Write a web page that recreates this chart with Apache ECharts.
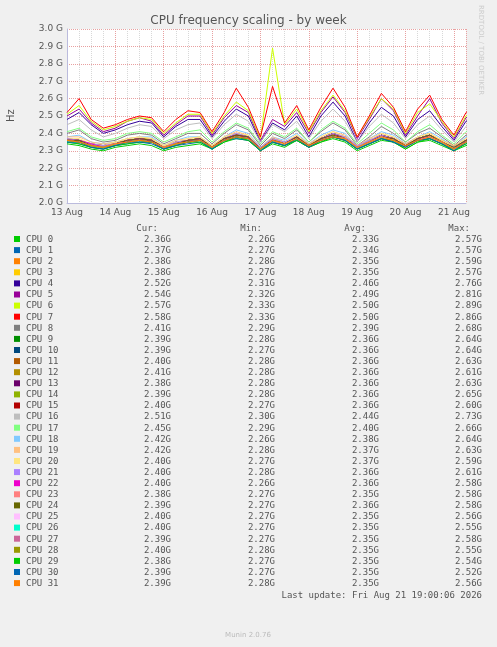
<!DOCTYPE html>
<html><head><meta charset="utf-8">
<script src="https://cdn.jsdelivr.net/npm/echarts@6/dist/echarts.min.js"></script>
<style>html,body{margin:0;background:#f0f0f0}#c{width:497px;height:647px}</style>
</head><body><div id="c"></div>
<script>
// x: hours since 13 Aug 00:00, one sample every 6h
const dayLabels = ["13 Aug","14 Aug","15 Aug","16 Aug","17 Aug","18 Aug","19 Aug","20 Aug","21 Aug"];
const yTicks = ["2.0 G","2.1 G","2.2 G","2.3 G","2.4 G","2.5 G","2.6 G","2.7 G","2.8 G","2.9 G","3.0 G"];
const names = [];
for (let i = 0; i < 32; i++) names.push("CPU " + i);
const colors = ["#00CC00","#0066B3","#FF8000","#FFCC00","#330099","#990099","#CCFF00","#FF0000","#808080","#008F00","#00487D","#B35A00","#B38F00","#6B006B","#8FB300","#B30000","#BEBEBE","#80FF80","#80C9FF","#FFC080","#FFE680","#AA80FF","#EE00CC","#FF8080","#666600","#FFBFFF","#00FFCC","#CC6699","#999900","#00CC00","#0066B3","#FF8000"];
const cur = ["2.36G","2.37G","2.38G","2.38G","2.52G","2.54G","2.57G","2.58G","2.41G","2.39G","2.39G","2.40G","2.41G","2.38G","2.39G","2.40G","2.51G","2.45G","2.42G","2.42G","2.40G","2.40G","2.40G","2.38G","2.39G","2.40G","2.40G","2.39G","2.40G","2.38G","2.39G","2.39G"];
const mins = ["2.26G","2.27G","2.28G","2.27G","2.31G","2.32G","2.33G","2.33G","2.29G","2.28G","2.27G","2.28G","2.28G","2.28G","2.28G","2.27G","2.30G","2.29G","2.26G","2.28G","2.27G","2.28G","2.26G","2.27G","2.27G","2.27G","2.27G","2.27G","2.28G","2.27G","2.27G","2.28G"];
const avgs = ["2.33G","2.34G","2.35G","2.35G","2.46G","2.49G","2.50G","2.50G","2.39G","2.36G","2.36G","2.36G","2.36G","2.36G","2.36G","2.36G","2.44G","2.40G","2.38G","2.37G","2.37G","2.36G","2.36G","2.35G","2.36G","2.35G","2.35G","2.35G","2.35G","2.35G","2.35G","2.35G"];
const maxs = ["2.57G","2.57G","2.59G","2.57G","2.76G","2.81G","2.89G","2.86G","2.68G","2.64G","2.64G","2.63G","2.61G","2.63G","2.65G","2.60G","2.73G","2.66G","2.64G","2.63G","2.59G","2.61G","2.58G","2.58G","2.58G","2.56G","2.55G","2.58G","2.55G","2.54G","2.52G","2.56G"];

const cpu0  = [2.34,2.33,2.31,2.30,2.32,2.33,2.34,2.33,2.30,2.32,2.33,2.34,2.31,2.35,2.37,2.36,2.30,2.34,2.32,2.36,2.32,2.35,2.37,2.35,2.30,2.33,2.36,2.35,2.31,2.35,2.36,2.33,2.30,2.33,2.34];
const cpu1  = [2.35,2.34,2.32,2.31,2.33,2.34,2.35,2.34,2.31,2.33,2.34,2.35,2.31,2.36,2.37,2.36,2.31,2.35,2.33,2.36,2.32,2.36,2.38,2.36,2.31,2.34,2.37,2.35,2.32,2.36,2.37,2.34,2.31,2.34,2.35];
const cpu2  = [2.36,2.35,2.33,2.32,2.34,2.35,2.36,2.35,2.32,2.34,2.35,2.36,2.32,2.37,2.38,2.37,2.32,2.36,2.34,2.38,2.33,2.36,2.39,2.37,2.32,2.35,2.38,2.36,2.33,2.37,2.38,2.35,2.32,2.35,2.37];
const cpu3  = [2.36,2.35,2.32,2.32,2.33,2.35,2.36,2.35,2.32,2.33,2.35,2.36,2.32,2.36,2.38,2.37,2.32,2.36,2.34,2.37,2.33,2.36,2.38,2.37,2.32,2.35,2.38,2.36,2.33,2.36,2.38,2.35,2.32,2.35,2.37];
const cpu4  = [2.48,2.52,2.45,2.40,2.42,2.45,2.47,2.46,2.38,2.44,2.48,2.48,2.38,2.47,2.54,2.50,2.35,2.46,2.42,2.50,2.38,2.50,2.58,2.50,2.35,2.46,2.55,2.50,2.38,2.48,2.53,2.44,2.36,2.47,2.50];
const cpu5  = [2.50,2.54,2.46,2.41,2.43,2.47,2.49,2.47,2.39,2.45,2.50,2.50,2.39,2.49,2.56,2.52,2.36,2.48,2.44,2.52,2.40,2.52,2.61,2.52,2.37,2.48,2.60,2.53,2.39,2.50,2.60,2.46,2.37,2.49,2.52];
const cpu6  = [2.51,2.56,2.47,2.42,2.44,2.47,2.49,2.48,2.40,2.46,2.51,2.51,2.40,2.50,2.58,2.53,2.37,2.89,2.45,2.54,2.41,2.53,2.62,2.53,2.38,2.49,2.60,2.54,2.40,2.52,2.57,2.47,2.38,2.50,2.55];
const cpu7  = [2.52,2.60,2.48,2.43,2.45,2.48,2.50,2.49,2.41,2.48,2.53,2.52,2.41,2.52,2.66,2.55,2.38,2.67,2.46,2.56,2.42,2.55,2.66,2.55,2.38,2.50,2.63,2.55,2.41,2.54,2.62,2.48,2.39,2.52,2.58];
const cpu8  = [2.40,2.42,2.37,2.35,2.36,2.39,2.40,2.39,2.34,2.37,2.40,2.40,2.34,2.40,2.45,2.42,2.33,2.40,2.37,2.42,2.35,2.41,2.46,2.42,2.33,2.38,2.44,2.40,2.35,2.40,2.43,2.38,2.33,2.39,2.41];
const cpu9  = [2.37,2.36,2.33,2.32,2.34,2.35,2.37,2.36,2.32,2.34,2.36,2.37,2.32,2.37,2.39,2.38,2.32,2.36,2.34,2.38,2.33,2.37,2.40,2.37,2.32,2.35,2.39,2.37,2.33,2.37,2.39,2.35,2.32,2.36,2.39];
const cpu10 = [2.36,2.36,2.33,2.32,2.34,2.35,2.36,2.36,2.32,2.34,2.36,2.36,2.32,2.37,2.39,2.38,2.31,2.36,2.34,2.38,2.33,2.37,2.39,2.37,2.32,2.35,2.38,2.37,2.33,2.37,2.39,2.35,2.32,2.36,2.39];
const cpu11 = [2.37,2.36,2.34,2.33,2.34,2.36,2.37,2.36,2.32,2.35,2.36,2.37,2.33,2.37,2.40,2.38,2.32,2.37,2.35,2.38,2.33,2.37,2.40,2.38,2.33,2.36,2.39,2.37,2.33,2.37,2.39,2.36,2.32,2.36,2.40];
const cpu12 = [2.37,2.36,2.34,2.33,2.35,2.36,2.37,2.37,2.33,2.35,2.36,2.37,2.33,2.37,2.39,2.38,2.32,2.37,2.35,2.38,2.34,2.37,2.40,2.38,2.33,2.36,2.39,2.37,2.34,2.37,2.39,2.36,2.33,2.36,2.41];
const cpu13 = [2.36,2.36,2.33,2.33,2.34,2.36,2.37,2.36,2.32,2.34,2.36,2.37,2.32,2.37,2.40,2.38,2.32,2.36,2.34,2.38,2.33,2.37,2.40,2.37,2.32,2.35,2.39,2.37,2.33,2.37,2.39,2.35,2.32,2.36,2.38];
const cpu14 = [2.37,2.36,2.33,2.32,2.34,2.36,2.37,2.36,2.32,2.35,2.36,2.37,2.32,2.37,2.40,2.38,2.32,2.37,2.34,2.38,2.33,2.37,2.40,2.38,2.32,2.36,2.39,2.37,2.33,2.37,2.39,2.35,2.32,2.36,2.39];
const cpu15 = [2.37,2.36,2.34,2.33,2.34,2.36,2.37,2.36,2.32,2.35,2.36,2.37,2.32,2.37,2.39,2.38,2.32,2.37,2.35,2.38,2.33,2.37,2.40,2.37,2.33,2.36,2.39,2.37,2.33,2.37,2.39,2.35,2.32,2.36,2.40];
const cpu16 = [2.45,2.48,2.42,2.38,2.40,2.43,2.45,2.44,2.37,2.42,2.45,2.46,2.37,2.45,2.51,2.47,2.35,2.45,2.41,2.47,2.37,2.47,2.54,2.47,2.35,2.44,2.51,2.46,2.37,2.45,2.50,2.42,2.35,2.44,2.51];
const cpu17 = [2.41,2.43,2.38,2.36,2.37,2.40,2.41,2.40,2.35,2.38,2.41,2.42,2.35,2.41,2.46,2.43,2.34,2.41,2.38,2.43,2.35,2.42,2.47,2.43,2.34,2.40,2.46,2.42,2.35,2.41,2.45,2.39,2.34,2.41,2.45];
const cpu18 = [2.38,2.39,2.35,2.34,2.35,2.37,2.38,2.38,2.33,2.36,2.38,2.38,2.33,2.38,2.42,2.40,2.32,2.38,2.36,2.40,2.34,2.39,2.42,2.40,2.32,2.37,2.41,2.39,2.34,2.38,2.41,2.37,2.32,2.38,2.42];
const cpu19 = [2.38,2.38,2.35,2.34,2.35,2.37,2.38,2.37,2.33,2.36,2.37,2.38,2.33,2.38,2.41,2.39,2.32,2.38,2.35,2.39,2.34,2.38,2.41,2.39,2.33,2.37,2.40,2.38,2.34,2.38,2.40,2.36,2.33,2.37,2.42];
const cpu20 = [2.37,2.37,2.34,2.33,2.35,2.37,2.38,2.37,2.33,2.35,2.37,2.38,2.33,2.38,2.40,2.39,2.32,2.37,2.35,2.39,2.33,2.38,2.41,2.38,2.33,2.36,2.40,2.38,2.33,2.38,2.40,2.36,2.32,2.37,2.40];
const cpu21 = [2.37,2.36,2.34,2.33,2.34,2.36,2.37,2.36,2.32,2.35,2.36,2.37,2.32,2.37,2.40,2.38,2.32,2.37,2.35,2.38,2.33,2.37,2.40,2.38,2.33,2.36,2.39,2.37,2.33,2.37,2.39,2.35,2.32,2.36,2.40];
const cpu22 = [2.36,2.36,2.34,2.32,2.34,2.36,2.37,2.36,2.32,2.34,2.36,2.37,2.32,2.37,2.39,2.38,2.31,2.36,2.34,2.38,2.33,2.37,2.39,2.37,2.32,2.35,2.38,2.37,2.33,2.37,2.38,2.35,2.31,2.36,2.40];
const cpu23 = [2.36,2.35,2.33,2.32,2.34,2.35,2.36,2.35,2.32,2.34,2.35,2.36,2.32,2.36,2.38,2.37,2.31,2.36,2.34,2.37,2.33,2.36,2.39,2.37,2.32,2.35,2.38,2.36,2.32,2.36,2.38,2.35,2.31,2.35,2.38];
const cpu24 = [2.36,2.36,2.33,2.32,2.34,2.36,2.37,2.36,2.32,2.34,2.36,2.37,2.32,2.37,2.39,2.38,2.31,2.36,2.34,2.38,2.33,2.37,2.39,2.37,2.32,2.35,2.38,2.37,2.33,2.37,2.39,2.35,2.32,2.36,2.39];
const cpu25 = [2.36,2.35,2.33,2.32,2.34,2.35,2.36,2.35,2.32,2.34,2.35,2.36,2.32,2.36,2.38,2.37,2.31,2.35,2.34,2.37,2.32,2.36,2.38,2.37,2.32,2.35,2.38,2.36,2.32,2.36,2.38,2.35,2.31,2.35,2.40];
const cpu26 = [2.35,2.35,2.33,2.32,2.33,2.35,2.36,2.35,2.31,2.34,2.35,2.36,2.31,2.36,2.38,2.37,2.31,2.35,2.33,2.37,2.32,2.36,2.38,2.36,2.31,2.34,2.37,2.36,2.32,2.36,2.37,2.34,2.31,2.35,2.40];
const cpu27 = [2.36,2.35,2.33,2.32,2.34,2.35,2.36,2.35,2.32,2.34,2.35,2.36,2.32,2.36,2.38,2.37,2.31,2.36,2.33,2.37,2.32,2.36,2.38,2.37,2.32,2.35,2.37,2.36,2.32,2.36,2.38,2.35,2.31,2.35,2.39];
const cpu28 = [2.36,2.35,2.33,2.32,2.33,2.35,2.36,2.35,2.31,2.34,2.35,2.36,2.32,2.36,2.38,2.37,2.31,2.35,2.33,2.37,2.32,2.36,2.38,2.36,2.31,2.34,2.37,2.36,2.32,2.36,2.37,2.34,2.31,2.35,2.40];
const cpu29 = [2.35,2.34,2.32,2.31,2.33,2.34,2.35,2.35,2.31,2.33,2.35,2.35,2.31,2.35,2.38,2.36,2.30,2.35,2.33,2.36,2.32,2.35,2.38,2.36,2.31,2.34,2.37,2.35,2.31,2.35,2.37,2.34,2.30,2.34,2.38];
const cpu30 = [2.35,2.35,2.32,2.31,2.33,2.35,2.35,2.35,2.31,2.33,2.35,2.36,2.31,2.36,2.38,2.37,2.30,2.35,2.33,2.37,2.32,2.36,2.38,2.36,2.31,2.34,2.37,2.35,2.32,2.36,2.37,2.34,2.30,2.35,2.39];
const cpu31 = [2.36,2.35,2.33,2.32,2.34,2.35,2.36,2.35,2.32,2.34,2.35,2.36,2.32,2.36,2.38,2.37,2.31,2.36,2.34,2.37,2.33,2.36,2.38,2.37,2.32,2.35,2.38,2.36,2.33,2.36,2.38,2.35,2.31,2.35,2.39];
const values = [cpu0,cpu1,cpu2,cpu3,cpu4,cpu5,cpu6,cpu7,cpu8,cpu9,cpu10,cpu11,cpu12,cpu13,cpu14,cpu15,cpu16,cpu17,cpu18,cpu19,cpu20,cpu21,cpu22,cpu23,cpu24,cpu25,cpu26,cpu27,cpu28,cpu29,cpu30,cpu31];

const chart = echarts.init(document.getElementById('c'));
const mono = 'DejaVu Sans Mono';
const series = values.map((v, i) => ({
  name: names[i], type: 'line', showSymbol: false, symbol: 'none', animation: false,
  lineStyle: { width: 1, color: colors[i] }, itemStyle: { color: colors[i] },
  data: v.map((y, k) => [k * 6, y]), z: 2 + (i < 8 ? 0 : 0)
}));
const g = [];
const hdrs = [["Cur:",158],["Min:",262],["Avg:",366],["Max:",470]];
hdrs.forEach(h => g.push({ type: 'text', x: h[1], y: 224, style: { text: h[0], font: '9px ' + mono, fill: '#555', align: 'right' } }));
names.forEach((n, i) => {
  const y = 235 + i * 11.1;
  g.push({ type: 'rect', shape: { x: 14, y: y + 1, width: 6, height: 6 }, style: { fill: colors[i] } });
  g.push({ type: 'text', x: 26, y: y, style: { text: n, font: '9px ' + mono, fill: '#555' } });
  [[cur,171],[mins,275],[avgs,379],[maxs,482]].forEach(c => g.push({ type: 'text', x: c[1], y: y, style: { text: c[0][i], font: '9px ' + mono, fill: '#555', align: 'right' } }));
});
g.push({ type: 'text', x: 482, y: 591, style: { text: 'Last update: Fri Aug 21 19:00:06 2026', font: '9px ' + mono, fill: '#555', align: 'right' } });
g.push({ type: 'text', x: 248, y: 632, style: { text: 'Munin 2.0.76', font: '7px DejaVu Sans', fill: '#bbb', align: 'center' } });
g.push({ type: 'text', x: 484, y: 5, rotation: -Math.PI / 2, style: { text: 'RRDTOOL / TOBI OETIKER', font: '7px DejaVu Sans', fill: '#ccc' } });
g.push({ type: 'text', x: 6, y: 122, rotation: Math.PI / 2, style: { text: 'Hz', font: '10px DejaVu Sans', fill: '#555' } });

chart.setOption({
  animation: false,
  backgroundColor: '#f0f0f0',
  title: { text: 'CPU frequency scaling - by week', left: 'center', top: 10, textStyle: { fontFamily: 'DejaVu Sans', fontSize: 12, fontWeight: 'normal', color: '#555' } },
  grid: { left: 67, top: 29, width: 399, height: 174, backgroundColor: '#fff', show: true, borderWidth: 0 },
  xAxis: {
    type: 'value', min: 0, max: 198, interval: 24,
    axisLine: { show: true, lineStyle: { color: '#bbbbdd' } }, axisTick: { show: false },
    axisLabel: { color: '#555', fontFamily: 'DejaVu Sans', fontSize: 9, formatter: v => dayLabels[v / 24] || '', margin: 5 },
    splitLine: { show: true, lineStyle: { color: '#e8a0a0', type: 'dotted' } },
    minorTick: { show: false, splitNumber: 4 },
    minorSplitLine: { show: true, lineStyle: { color: '#d8d8d8', type: 'dotted' } }
  },
  yAxis: {
    type: 'value', min: 2.0, max: 3.0, interval: 0.1,
    axisLine: { show: true, lineStyle: { color: '#bbbbdd' } }, axisTick: { show: false },
    axisLabel: { color: '#555', fontFamily: 'DejaVu Sans', fontSize: 9, formatter: v => yTicks[Math.round((v - 2) * 10)], margin: 4 },
    splitLine: { show: true, lineStyle: { color: '#e8a0a0', type: 'dotted' } }
  },
  series: series,
  graphic: g
});
</script></body></html>
